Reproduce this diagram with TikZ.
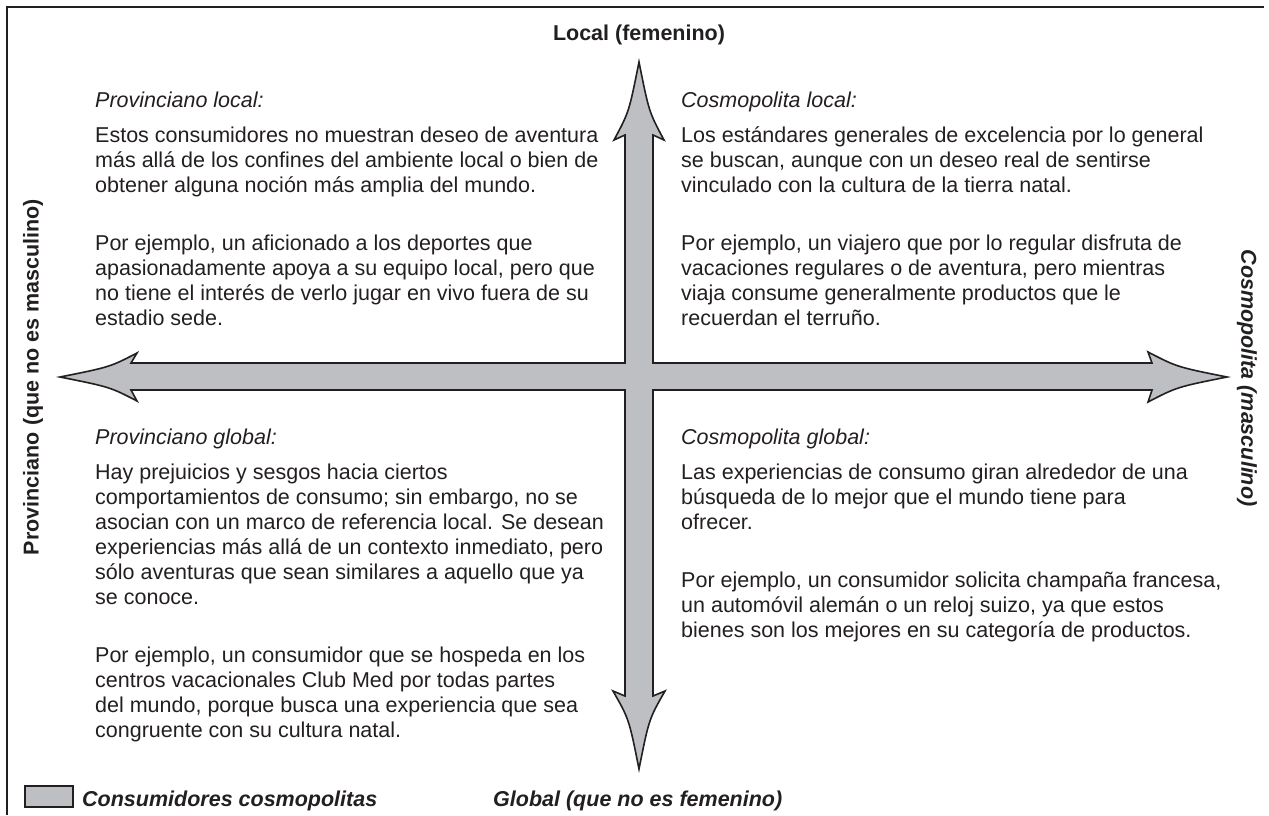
\documentclass[tikz,border=0pt]{standalone}
\usepackage{fontspec}
\setmainfont{Liberation Sans}
\definecolor{arrowgray}{RGB}{190,191,195}
\definecolor{ink}{RGB}{35,31,32}
\newcommand\plines[1]{\vtop{\baselineskip=25pt\halign{##\hfil\cr #1\crcr}}}
\tikzset{
  body/.style={anchor=base west, inner sep=0pt, text=ink, font=\fontsize{21.5}{25}\selectfont},
  head/.style={anchor=base west, inner sep=0pt, text=ink, font=\fontsize{21.5}{25}\selectfont\itshape},
  axislab/.style={inner sep=0pt, text=ink, font=\fontsize{21.5}{25}\selectfont\bfseries},
}
\begin{document}
\begin{tikzpicture}[x=1pt,y=-1pt]
\useasboundingbox (0,0) rectangle (1269,815);
% frame
\draw[ink, line width=2pt] (7,815) -- (7,7) -- (1264,7);
% cross arrows
\draw[ink, line width=1.6pt, fill=arrowgray, line join=miter]
 (639,62) .. controls (649,112) .. (664,140) -- (653,135) -- (653,363)
 -- (1152,363) -- (1148,352) .. controls (1177,367) .. (1227,377)
 .. controls (1177,387) .. (1148,402) -- (1152,390) -- (653,390)
 -- (653,696) -- (665,691) .. controls (649,719) .. (639,769)
 .. controls (629,719) .. (613,691) -- (625,696) -- (625,390)
 -- (131,390) -- (137,401) .. controls (110,387) .. (60,377)
 .. controls (110,367) .. (137,353) -- (131,363) -- (625,363)
 -- (625,135) -- (614,140) .. controls (629,112) .. (639,62) -- cycle;
% axis labels
\node[axislab] (top) at (639,35) {Local (femenino)};
\node[axislab, anchor=base west, font=\fontsize{21.5}{25}\selectfont\bfseries\itshape] (bottom) at (493,806) {Global (que no es femenino)};
\node[axislab, rotate=90] (left) at (33,377) {Provinciano (que no es masculino)};
\node[axislab, rotate=-90, font=\fontsize{21.5}{25}\selectfont\bfseries\itshape] (right) at (1247,378) {Cosmopolita (masculino)};
% legend
\draw[ink, line width=1.6pt, fill=arrowgray] (25,786) rectangle (73,807);
\node[axislab, anchor=base west, font=\fontsize{21.5}{25}\selectfont\bfseries\itshape] (leg) at (82,806) {Consumidores cosmopolitas};
% top-left
\node[head] (tlh) at (95,107) {Provinciano local:};
\node[body] (tl1) at (95,142) {\plines{Estos consumidores no muestran deseo de aventura\cr más allá de los confines del ambiente local o bien de\cr obtener alguna noción más amplia del mundo.}};
\node[body] (tl2) at (95,250) {\plines{Por ejemplo, un aficionado a los deportes que\cr apasionadamente apoya a su equipo local, pero que\cr no tiene el interés de verlo jugar en vivo fuera de su\cr estadio sede.}};
% top-right
\node[head] (trh) at (681,107) {Cosmopolita local:};
\node[body] (tr1) at (681,142) {\plines{Los estándares generales de excelencia por lo general\cr se buscan, aunque con un deseo real de sentirse\cr vinculado con la cultura de la tierra natal.}};
\node[body] (tr2) at (681,250) {\plines{Por ejemplo, un viajero que por lo regular disfruta de\cr vacaciones regulares o de aventura, pero mientras\cr viaja consume generalmente productos que le\cr recuerdan el terruño.}};
% bottom-left
\node[head] (blh) at (95,444) {Provinciano global:};
\node[body] (bl1) at (95,479) {\plines{Hay prejuicios y sesgos hacia ciertos\cr comportamientos de consumo; sin embargo, no se\cr asocian con un marco de referencia local. Se desean\cr experiencias más allá de un contexto inmediato, pero\cr sólo aventuras que sean similares a aquello que ya\cr se conoce.}};
\node[body] (bl2) at (95,662) {\plines{Por ejemplo, un consumidor que se hospeda en los\cr centros vacacionales Club Med por todas partes\cr del mundo, porque busca una experiencia que sea\cr congruente con su cultura natal.}};
% bottom-right
\node[head] (brh) at (681,444) {Cosmopolita global:};
\node[body] (br1) at (681,479) {\plines{Las experiencias de consumo giran alrededor de una\cr búsqueda de lo mejor que el mundo tiene para\cr ofrecer.}};
\node[body] (br2) at (681,587) {\plines{Por ejemplo, un consumidor solicita champaña francesa,\cr un automóvil alemán o un reloj suizo, ya que estos\cr bienes son los mejores en su categoría de productos.}};
\end{tikzpicture}
\end{document}
